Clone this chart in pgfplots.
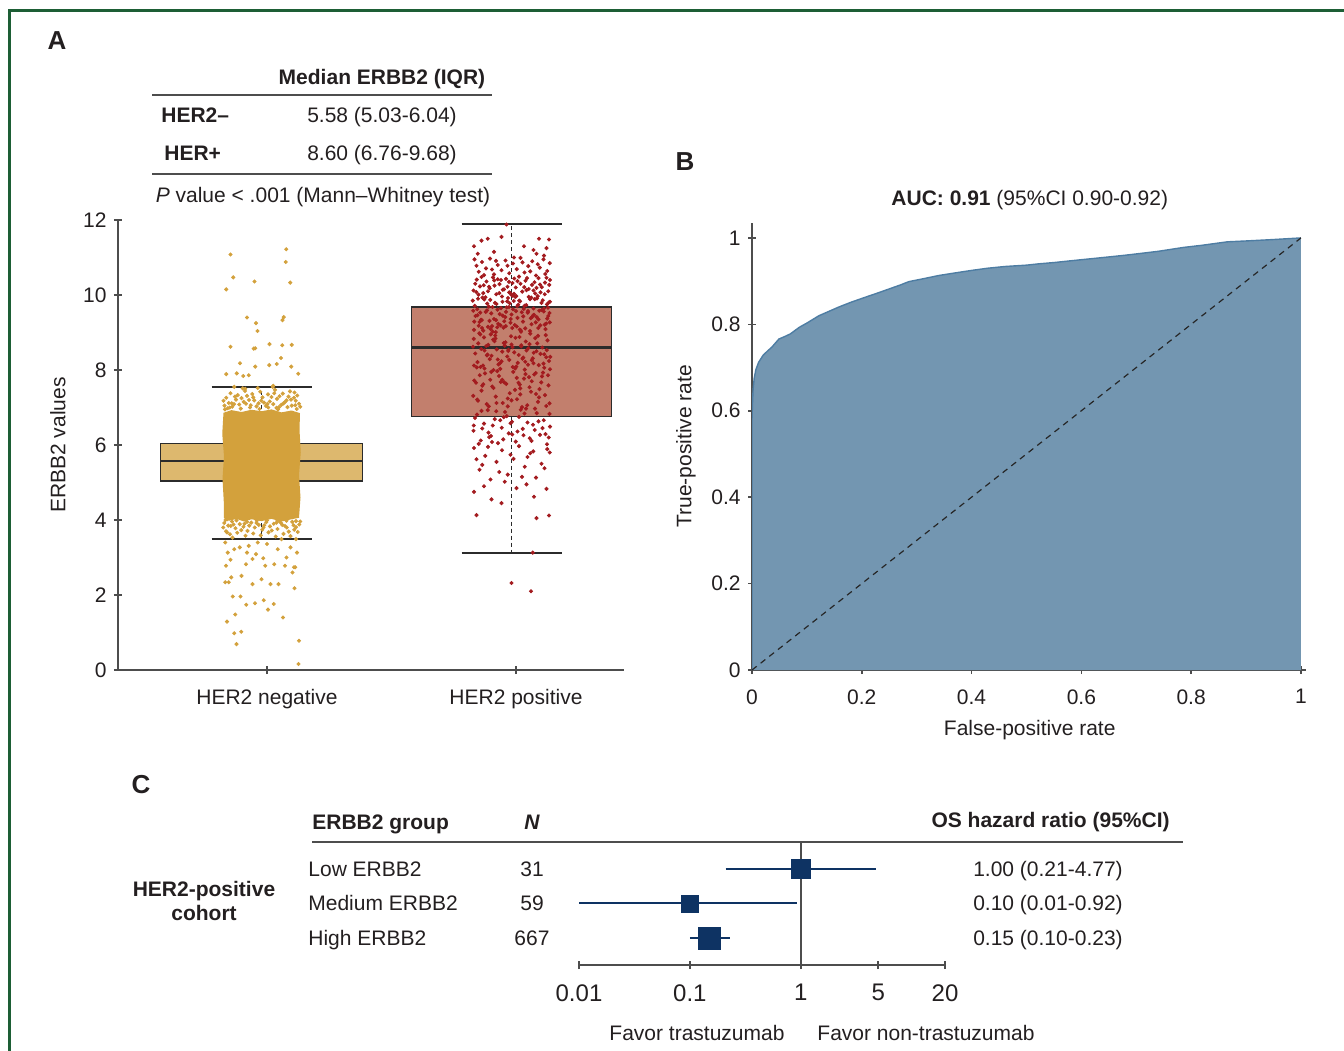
\documentclass[border=0pt]{standalone}
\usepackage{fontspec}
\setmainfont{Liberation Sans}
\usepackage{pgfplots}
\pgfplotsset{compat=1.18}
\definecolor{negbox}{HTML}{DDB86E}
\definecolor{negdot}{HTML}{D3A13C}
\definecolor{posbox}{HTML}{C27F6D}
\definecolor{posdot}{HTML}{A31B1F}
\definecolor{boxline}{HTML}{2B2B2B}
\definecolor{axisgray}{HTML}{4D4D4D}
\definecolor{rocfill}{HTML}{7396B1}
\definecolor{rocline}{HTML}{4E7DA3}
\definecolor{navyc}{HTML}{0E3363}
\definecolor{framec}{HTML}{1D5E35}
\definecolor{textcol}{HTML}{231F20}
\begin{document}
\fontsize{10.5}{12.6}\selectfont
\color{textcol}
\begin{tikzpicture}
\useasboundingbox (0,0) rectangle (672pt,-525pt);
\pgfplotsset{common/.style={scale only axis,
  tick style={draw=axisgray,line width=0.8pt},
  tick align=outside, major tick length=4pt},
  noarrows/.style={axis line style={-,draw=axisgray,line width=0.8pt},
  every outer x axis line/.append style={-}, every outer y axis line/.append style={-}}}

% ---------------- Panel A ----------------
\begin{axis}[common, at={(59pt,-335pt)}, anchor=south west, width=253pt, height=225pt,
  xmin=-0.574, xmax=1.45, ymin=0, ymax=12,
  axis x line=bottom, axis y line=left, noarrows,
  xtick={0.022,1.018}, xticklabels={HER2 negative,HER2 positive},
  xticklabel style={yshift=-4pt},
  ytick={0,2,4,6,8,10,12}, yticklabels={0,2,4,6,8,10,12},
  ylabel={ERBB2 values},
  ylabel style={at={(axis description cs:-0.1186,0.5)}, anchor=center}]
% whiskers negative
\addplot[boxline, line width=0.6pt, dash pattern=on 2pt off 1.5pt] coordinates {(0,6.04)(0,7.55)};
\addplot[boxline, line width=0.6pt, dash pattern=on 2pt off 1.5pt] coordinates {(0,5.03)(0,3.49)};
\addplot[boxline, line width=0.7pt] coordinates {(-0.2,7.55)(0.2,7.55)};
\addplot[boxline, line width=0.7pt] coordinates {(-0.2,3.49)(0.2,3.49)};
% whiskers positive
\addplot[boxline, line width=0.6pt, dash pattern=on 2pt off 1.5pt] coordinates {(1,9.68)(1,11.89)};
\addplot[boxline, line width=0.6pt, dash pattern=on 2pt off 1.5pt] coordinates {(1,6.76)(1,3.12)};
\addplot[boxline, line width=0.7pt] coordinates {(0.8,11.89)(1.2,11.89)};
\addplot[boxline, line width=0.7pt] coordinates {(0.8,3.12)(1.2,3.12)};
% boxes
\addplot[draw=boxline, fill=negbox, line width=0.9pt] coordinates {(-0.404,5.03)(0.404,5.03)(0.404,6.04)(-0.404,6.04)} -- cycle;
\addplot[boxline, line width=1.2pt] coordinates {(-0.404,5.58)(0.404,5.58)};
\addplot[draw=boxline, fill=posbox, line width=0.9pt] coordinates {(0.6,6.76)(1.4,6.76)(1.4,9.68)(0.6,9.68)} -- cycle;
\addplot[boxline, line width=1.2pt] coordinates {(0.6,8.60)(1.4,8.60)};
% dense core of HER2-negative points
\addplot[draw=none, fill=negdot] coordinates {(-0.150,4.05)(-0.130,3.98)(-0.10,4.03)(-0.07,3.96)(-0.04,4.02)(0,3.97)(0.04,4.03)(0.08,3.96)(0.12,4.02)(0.150,4.06)(0.156,4.6)(0.150,5.2)(0.157,5.8)(0.152,6.4)(0.154,6.85)(0.12,6.92)(0.08,6.87)(0.04,6.95)(0,6.9)(-0.04,6.94)(-0.08,6.88)(-0.12,6.93)(-0.152,6.86)(-0.157,6.3)(-0.15,5.7)(-0.156,5.1)(-0.151,4.5)} -- cycle;
% HER2-negative points
\addplot[only marks, mark=*, mark size=0.8pt, color=negdot] coordinates {
(-0.148,7.05)(-0.131,7.12)(-0.117,7.02)(-0.102,7.21)(-0.089,7.08)(-0.071,7.15)(-0.058,7.31)(-0.043,7.06)(-0.029,7.19)(-0.012,7.11)(0.004,7.27)(0.018,7.04)(0.033,7.16)(0.047,7.09)(0.062,7.23)(0.079,7.07)(0.093,7.14)(0.108,7.29)(0.121,7.05)(0.137,7.18)(0.150,7.1)(-0.141,7.26)(-0.124,7.38)(-0.095,7.33)(-0.066,7.44)(-0.037,7.36)(-0.005,7.42)(0.026,7.35)(0.054,7.47)(0.085,7.37)(0.114,7.43)(0.143,7.32)(-0.152,7.18)(-0.110,7.09)(-0.080,7.25)(-0.020,7.03)(0.010,7.13)(0.040,7.28)(0.070,7.01)(0.100,7.19)(0.130,7.26)(-0.050,7.20)(0.155,7.02)(-0.135,6.98)(0.060,6.99)(-0.015,7.52)(0.045,7.55)(-0.075,7.51)
(-0.146,6.95)(-0.127,7.0)(-0.083,6.97)(-0.046,7.0)(-0.008,6.96)(0.027,7.0)(0.066,6.95)(0.104,7.01)(0.141,6.96)(-0.119,7.11)(-0.062,7.1)(0.023,7.09)(0.088,7.11)(0.135,7.06)(-0.001,7.18)(-0.106,7.29)(0.072,7.3)(0.118,7.21)(-0.033,7.27)(0.051,7.38)
(-0.149,3.92)(-0.133,3.85)(-0.118,3.96)(-0.104,3.78)(-0.087,3.89)(-0.072,3.82)(-0.056,3.71)(-0.041,3.93)(-0.027,3.80)(-0.011,3.87)(0.003,3.74)(0.019,3.94)(0.034,3.83)(0.049,3.90)(0.064,3.76)(0.078,3.92)(0.094,3.84)(0.109,3.69)(0.123,3.95)(0.138,3.81)(0.151,3.88)(-0.142,3.70)(-0.126,3.62)(-0.097,3.66)(-0.064,3.58)(-0.033,3.64)(-0.003,3.59)(0.028,3.67)(0.057,3.56)(0.088,3.63)(0.116,3.57)(0.145,3.68)(-0.153,3.80)(-0.112,3.88)(-0.081,3.73)(-0.019,3.98)(0.011,3.86)(0.041,3.72)(0.071,3.97)(0.101,3.80)(0.131,3.74)(-0.049,3.85)(0.155,3.96)(-0.137,4.02)(0.062,4.01)
(-0.144,4.0)(-0.1,3.99)(-0.058,3.95)(-0.02,3.92)(0.022,3.99)(0.06,3.93)(0.1,3.98)(0.138,3.97)(-0.123,3.84)(-0.068,3.9)(0.008,3.8)(0.083,3.87)(0.128,3.86)
(-0.124,11.08)(0.099,11.22)(0.097,10.88)(-0.113,10.47)(-0.028,10.36)(-0.141,10.15)(0.115,10.33)(-0.058,9.40)(0.089,9.41)(0.084,9.33)(-0.022,9.25)(-0.016,9.04)(-0.124,8.62)(-0.025,8.58)(-0.031,8.57)(0.032,8.69)(0.083,8.66)(0.121,8.67)(0.078,8.32)(-0.086,8.18)(-0.025,8.09)(0.031,8.13)(0.061,8.16)(0.119,8.09)(-0.141,7.89)(-0.099,7.91)(-0.073,7.84)(-0.051,7.86)(0.147,7.90)(-0.109,7.55)(-0.065,7.50)(0.047,7.58)(0.132,7.40)
(-0.138,3.67)(-0.109,3.22)(-0.058,3.13)(-0.036,2.96)(0.007,2.98)(0.051,2.82)(0.094,2.78)(0.135,2.74)(-0.142,2.78)(-0.121,2.47)(-0.08,2.51)(0,2.42)(0.036,2.29)(0.068,2.29)(0.132,2.18)(-0.145,2.34)(-0.115,1.96)(-0.084,1.96)(-0.061,1.74)(-0.026,1.78)(0.009,1.86)(0.026,1.61)(0.049,1.76)(-0.105,1.48)(0.086,1.40)(-0.138,1.29)(-0.109,0.98)(-0.081,1.02)(-0.1,0.69)(0.15,0.78)(0.148,0.16)
(-0.145,3.40)(-0.116,3.53)(-0.087,3.27)(-0.051,3.31)(-0.015,3.40)(0.022,3.36)(0.065,3.22)(0.116,3.27)(0.142,3.13)(0.138,3.49)(-0.135,3.13)(0.08,3.49)(-0.022,3.09)(0.10,3.0)(-0.124,2.94)(-0.062,2.82)(0.015,2.78)(0.124,2.60)(-0.131,2.34)(-0.036,2.29)(0.13,2.74)
};
% HER2-positive points (jitter offsets around category 1)
\addplot[only marks, mark=*, mark size=0.8pt, color=posdot, x filter/.expression={x+1}] coordinates {
(-0.02,11.88)(-0.12,11.45)(-0.095,11.5)(-0.04,11.55)(0.11,11.5)(0.15,11.48)(0.088,11.2)(-0.15,11.3)(0.05,11.3)(-0.07,11.15)(0.13,11.05)(0.01,11.0)(-0.135,11.1)(0.1,11.1)(0.14,11.25)
(-0.148,10.95)(-0.131,10.62)(-0.118,10.88)(-0.102,10.71)(-0.086,10.97)(-0.07,10.55)(-0.055,10.8)(-0.04,10.66)(-0.024,10.92)(-0.009,10.58)(0.006,10.84)(0.021,10.69)(0.036,10.99)(0.052,10.6)(0.067,10.77)(0.083,10.9)(0.098,10.52)(0.113,10.73)(0.128,10.95)(0.143,10.64)(0.153,10.85)(-0.14,10.78)(-0.078,10.68)(-0.016,10.78)(0.044,10.87)(0.105,10.82)(0.135,10.56)(-0.11,10.53)(0.075,10.63)(-0.062,10.91)
(-0.152,10.12)(-0.139,10.41)(-0.126,10.23)(-0.113,10.05)(-0.1,10.36)(-0.087,10.18)(-0.074,10.47)(-0.061,10.02)(-0.048,10.29)(-0.035,10.14)(-0.022,10.43)(-0.009,10.07)(0.004,10.32)(0.017,10.2)(0.03,10.49)(0.043,10.09)(0.056,10.38)(0.069,10.16)(0.082,10.27)(0.095,10.04)(0.108,10.45)(0.121,10.21)(0.134,10.33)(0.147,10.1)(0.154,10.4)(-0.145,10.3)(-0.12,10.48)(-0.094,10.1)(-0.068,10.25)(-0.042,10.4)(-0.016,10.22)(0.01,10.03)(0.036,10.3)(0.062,10.45)(0.088,10.12)(0.114,10.28)(0.14,10.46)(-0.132,10.01)(-0.055,10.42)(0.024,10.37)(0.1,10.19)(-0.005,10.05)(0.005,9.98)(0.0,10.0)(0.015,9.95)
(-0.150,9.07)(-0.137,9.62)(-0.122,9.34)(-0.109,9.88)(-0.094,9.15)(-0.081,9.51)(-0.066,9.79)(-0.053,9.23)(-0.038,9.96)(-0.025,9.41)(-0.010,9.68)(0.003,9.12)(0.018,9.57)(0.031,9.85)(0.046,9.29)(0.059,9.73)(0.074,9.04)(0.087,9.46)(0.102,9.91)(0.115,9.19)(0.130,9.64)(0.143,9.37)(0.154,9.82)
(-0.144,9.44)(-0.131,9.18)(-0.116,9.93)(-0.103,9.55)(-0.088,9.31)(-0.075,9.02)(-0.060,9.76)(-0.047,9.49)(-0.032,9.13)(-0.019,9.67)(-0.004,9.26)(0.009,9.84)(0.024,9.39)(0.037,9.06)(0.052,9.71)(0.065,9.53)(0.080,9.22)(0.093,9.89)(0.108,9.35)(0.121,9.6)(0.136,9.09)(0.149,9.8)
(-0.147,9.71)(-0.128,9.28)(-0.113,9.05)(-0.098,9.59)(-0.085,9.87)(-0.070,9.36)(-0.057,9.14)(-0.042,9.65)(-0.029,9.3)(-0.014,9.92)(0.0,9.48)(0.013,9.2)(0.027,9.74)(0.041,9.54)(0.055,9.11)(0.069,9.95)(0.083,9.42)(0.097,9.27)(0.111,9.58)(0.125,9.86)(0.139,9.24)(0.152,9.52)
(-0.153,9.58)(-0.119,9.33)(-0.091,9.69)(-0.063,9.01)(-0.035,9.45)(-0.007,9.78)(0.021,9.16)(0.049,9.63)(0.077,9.38)(0.105,9.97)(0.133,9.21)(-0.134,9.9)(-0.078,9.17)(-0.022,9.55)(0.034,9.83)(0.090,9.47)(0.146,9.66)
(-0.149,9.29)(-0.141,10.08)(-0.125,9.53)(-0.111,10.26)(-0.097,9.77)(-0.083,9.09)(-0.069,10.39)(-0.056,9.61)(-0.044,9.19)(-0.03,10.15)(-0.017,9.83)(-0.003,9.36)(0.011,10.44)(0.023,9.7)(0.038,9.02)(0.051,10.21)(0.066,9.57)(0.079,9.93)(0.092,10.34)(0.107,9.12)(0.12,9.79)(0.133,10.02)(0.147,9.44)(0.153,9.27)
(-0.155,9.85)(-0.136,9.46)(-0.118,9.12)(-0.104,9.94)(-0.09,10.22)(-0.076,9.68)(-0.062,9.33)(-0.049,10.05)(-0.036,9.82)(-0.023,9.17)(-0.01,10.35)(0.006,9.62)(0.019,9.97)(0.033,9.08)(0.047,9.43)(0.06,10.13)(0.074,9.89)(0.088,9.64)(0.101,9.41)(0.116,10.07)(0.129,9.56)(0.142,9.75)(0.151,10.27)
(-0.151,8.83)(-0.136,8.21)(-0.121,8.56)(-0.108,8.04)(-0.093,8.67)(-0.08,8.38)(-0.065,8.92)(-0.052,8.15)(-0.037,8.49)(-0.024,8.74)(-0.009,8.27)(0.004,8.61)(0.019,8.09)(0.032,8.88)(0.047,8.33)(0.06,8.52)(0.075,8.97)(0.088,8.18)(0.103,8.71)(0.116,8.43)(0.131,8.06)(0.144,8.79)(0.155,8.35)
(-0.145,8.44)(-0.129,8.98)(-0.114,8.12)(-0.101,8.64)(-0.087,8.29)(-0.073,8.81)(-0.059,8.55)(-0.045,8.03)(-0.031,8.72)(-0.017,8.36)(-0.002,8.9)(0.011,8.47)(0.025,8.19)(0.039,8.66)(0.053,8.01)(0.067,8.58)(0.081,8.26)(0.095,8.85)(0.109,8.13)(0.123,8.6)(0.137,8.93)(0.15,8.24)
(-0.154,8.62)(-0.124,8.08)(-0.096,8.41)(-0.068,8.77)(-0.04,8.23)(-0.012,8.54)(0.016,8.86)(0.044,8.3)(0.072,8.69)(0.1,8.5)(0.128,8.17)(-0.139,8.07)(-0.083,8.95)(-0.027,8.65)(0.029,8.4)(0.085,8.31)(0.141,8.53)(-0.11,8.87)(0.057,8.76)
(-0.15,8.12)(-0.133,8.71)(-0.117,7.58)(-0.098,8.39)(-0.081,7.95)(-0.064,8.84)(-0.046,8.18)(-0.029,7.67)(-0.013,8.51)(0.005,8.08)(0.021,7.79)(0.039,8.63)(0.055,8.22)(0.072,7.54)(0.089,8.46)(0.106,8.91)(0.122,7.83)(0.139,8.34)(0.154,8.02)
(-0.142,7.66)(-0.108,8.52)(-0.072,8.0)(-0.037,7.74)(0.0,8.68)(0.033,7.61)(0.066,8.14)(0.097,7.92)(0.131,8.42)(-0.125,8.95)(-0.055,8.28)(0.015,8.04)(0.081,7.7)(0.146,7.86)
(-0.149,7.72)(-0.134,7.18)(-0.12,7.45)(-0.106,7.91)(-0.091,7.03)(-0.077,7.56)(-0.063,7.29)(-0.05,7.84)(-0.035,7.12)(-0.021,7.63)(-0.007,7.38)(0.007,7.95)(0.022,7.22)(0.035,7.51)(0.05,7.77)(0.063,7.06)(0.078,7.42)(0.091,7.88)(0.106,7.15)(0.119,7.67)(0.134,7.33)(0.148,7.59)
(-0.153,7.31)(-0.127,7.86)(-0.099,7.09)(-0.072,7.52)(-0.043,7.68)(-0.015,7.24)(0.014,7.47)(0.042,7.01)(0.07,7.81)(0.098,7.36)(0.126,7.93)(0.152,7.11)(-0.113,7.62)(-0.057,7.97)(0.0,7.19)(0.056,7.89)(0.112,7.49)(-0.085,7.74)(0.028,7.66)(0.139,7.04)
(-0.152,6.38)(-0.138,6.81)(-0.123,6.12)(-0.11,6.57)(-0.095,6.93)(-0.082,6.24)(-0.067,6.69)(-0.054,6.05)(-0.039,6.46)(-0.026,6.88)(-0.011,6.31)(0.002,6.62)(0.017,6.09)(0.03,6.75)(0.045,6.43)(0.058,6.97)(0.073,6.18)(0.086,6.54)(0.101,6.85)(0.114,6.27)(0.129,6.66)(0.142,6.02)(0.154,6.49)
(-0.146,6.72)(-0.117,6.44)(-0.089,6.21)(-0.061,6.9)(-0.033,6.15)(-0.004,6.58)(0.024,6.36)(0.052,6.84)(0.08,6.11)(0.108,6.63)(0.136,6.29)(-0.131,6.03)(-0.075,6.52)(-0.019,6.77)(0.037,6.94)(0.093,6.4)(0.149,6.2)(-0.045,6.66)
(-0.151,6.52)(-0.12,6.91)(-0.092,6.33)(-0.06,7.12)(-0.031,6.74)(0.003,6.28)(0.035,7.35)(0.064,6.6)(0.094,6.97)(0.124,6.45)(0.152,6.83)(-0.137,7.21)(-0.078,6.08)(-0.015,7.03)(0.048,6.26)(0.11,7.27)
(-0.15,5.92)(-0.128,5.34)(-0.105,5.71)(-0.084,5.08)(-0.06,5.55)(-0.038,5.86)(-0.015,5.21)(0.008,5.63)(0.03,5.97)(0.053,5.42)(0.075,5.78)(0.098,5.13)(0.12,5.5)(0.143,5.89)(-0.14,5.62)(-0.094,5.95)(-0.049,5.28)(-0.004,5.74)(0.042,5.15)(0.087,5.83)(0.132,5.38)(-0.117,5.47)(-0.027,5.02)(0.064,5.68)(0.153,5.8)
(-0.15,4.75)(-0.14,4.13)(-0.08,4.55)(-0.04,4.45)(0.02,4.85)(0.06,4.95)(0.09,4.62)(0.14,4.83)(0.1,4.05)(0.15,4.12)(-0.11,4.9)
(0.085,3.13)(0.0,2.32)(0.078,2.1)
};
\end{axis}

% ---------------- Panel B ----------------
\begin{axis}[common, at={(376pt,-335pt)}, anchor=south west, width=277.2pt, height=223.6pt,
  xmin=0, xmax=1.01, ymin=0, ymax=1.035,
  axis x line=bottom, axis y line=left, noarrows,
  xtick={0,0.2,0.4,0.6,0.8,1}, xticklabels={0,0.2,0.4,0.6,0.8,1},
  xticklabel style={yshift=-4pt},
  ytick={0,0.2,0.4,0.6,0.8,1}, yticklabels={0,0.2,0.4,0.6,0.8,1},
  xlabel={False-positive rate}, ylabel={True-positive rate},
  xlabel style={at={(axis description cs:0.501,-0.134)}, anchor=center},
  ylabel style={at={(axis description cs:-0.119,0.5)}, anchor=center},
  title={\textbf{AUC: 0.91} (95\%CI 0.90-0.92)},
  title style={at={(axis description cs:0.501,1.023)}, anchor=center}]
\addplot[fill=rocfill, draw=none] coordinates {(0,0)(0,0.58)(0.001,0.62)(0.002,0.65)(0.004,0.675)(0.007,0.695)(0.012,0.712)(0.02,0.728)(0.028,0.738)(0.036,0.747)(0.049,0.766)(0.06,0.772)(0.07,0.778)(0.086,0.793)(0.1,0.803)(0.122,0.82)(0.14,0.83)(0.158,0.84)(0.18,0.851)(0.207,0.863)(0.23,0.873)(0.25,0.882)(0.27,0.891)(0.286,0.899)(0.31,0.905)(0.34,0.913)(0.37,0.919)(0.401,0.925)(0.43,0.93)(0.462,0.934)(0.5,0.937)(0.522,0.94)(0.55,0.943)(0.58,0.947)(0.611,0.951)(0.65,0.956)(0.68,0.96)(0.707,0.964)(0.74,0.969)(0.786,0.978)(0.82,0.983)(0.866,0.991)(0.9,0.993)(0.946,0.996)(1,1)(1,0)} -- cycle;
\addplot[draw=rocline, line width=0.7pt] coordinates {(0,0)(0,0.58)(0.001,0.62)(0.002,0.65)(0.004,0.675)(0.007,0.695)(0.012,0.712)(0.02,0.728)(0.028,0.738)(0.036,0.747)(0.049,0.766)(0.06,0.772)(0.07,0.778)(0.086,0.793)(0.1,0.803)(0.122,0.82)(0.14,0.83)(0.158,0.84)(0.18,0.851)(0.207,0.863)(0.23,0.873)(0.25,0.882)(0.27,0.891)(0.286,0.899)(0.31,0.905)(0.34,0.913)(0.37,0.919)(0.401,0.925)(0.43,0.93)(0.462,0.934)(0.5,0.937)(0.522,0.94)(0.55,0.943)(0.58,0.947)(0.611,0.951)(0.65,0.956)(0.68,0.96)(0.707,0.964)(0.74,0.969)(0.786,0.978)(0.82,0.983)(0.866,0.991)(0.9,0.993)(0.946,0.996)(1,1)};
\addplot[black!85, line width=0.6pt, dash pattern=on 3pt off 2.5pt] coordinates {(0,0)(1,1)};
\end{axis}

% ---------------- Panel C ----------------
\begin{axis}[common, at={(289.5pt,-482.5pt)}, anchor=south west, width=183pt, height=61.5pt,
  xmode=log, xmin=0.01, xmax=20, ymin=0.217, ymax=3.78,
  axis x line=bottom, hide y axis, noarrows, xminorticks=false,
  xtick={0.01,0.1,1,5,20}, xticklabels={0.01,0.1,1,5,20},
  xticklabel style={font=\fontsize{12}{14}\selectfont, yshift=-4pt},
  clip=false]
\addplot[axisgray, line width=0.8pt] coordinates {(1,0.217)(1,3.78)};
\addplot[navyc, line width=1pt] coordinates {(0.21,3)(4.77,3)};
\addplot[navyc, line width=1pt] coordinates {(0.01,2)(0.92,2)};
\addplot[navyc, line width=1pt] coordinates {(0.10,1)(0.23,1)};
\addplot[only marks, mark=square*, mark size=4.75pt, color=navyc] coordinates {(1,3)};
\addplot[only marks, mark=square*, mark size=4.25pt, color=navyc] coordinates {(0.10,2)};
\addplot[only marks, mark=square*, mark size=5.5pt, color=navyc] coordinates {(0.15,1)};
\end{axis}

% ---------------- annotations ----------------
\begin{scope}[x=0.5pt,y=-0.5pt, every node/.style={inner sep=0pt}]
\draw[framec, line width=1.5pt] (9,1070) -- (9,10) -- (1360,10);
\node[anchor=base, font=\fontsize{13}{15}\selectfont\bfseries] at (57,49) {A};
\node[anchor=base, font=\fontsize{13}{15}\selectfont\bfseries] at (685,170) {B};
\node[anchor=base, font=\fontsize{13}{15}\selectfont\bfseries] at (141,793) {C};
% table of panel A
\node[anchor=base, font=\bfseries] at (382,84.5) {Median ERBB2 (IQR)};
\draw[axisgray, line width=0.8pt] (152,95) -- (492,95);
\node[anchor=base west, font=\bfseries] at (161,122.5) {HER2–};
\node[anchor=base] at (382,122.5) {5.58 (5.03-6.04)};
\node[anchor=base west, font=\bfseries] at (164,160.5) {HER+};
\node[anchor=base] at (382,160.5) {8.60 (6.76-9.68)};
\draw[axisgray, line width=0.8pt] (152,174) -- (492,174);
\node[anchor=base] at (323,202.5) {\textit{P} value < .001 (Mann–Whitney test)};
% forest plot texts
\node[anchor=base west, font=\bfseries] at (312,829) {ERBB2 group};
\node[anchor=base, font=\bfseries\itshape] at (532,829) {N};
\node[anchor=base east, font=\bfseries] at (1170,827.5) {OS hazard ratio (95\%CI)};
\draw[axisgray, line width=1pt] (312,842) -- (1183,842);
\node[anchor=base west] at (308,876.5) {Low ERBB2};
\node[anchor=base west] at (308,910.5) {Medium ERBB2};
\node[anchor=base west] at (308,945.5) {High ERBB2};
\node[anchor=base] at (532,876.5) {31};
\node[anchor=base] at (532,910.5) {59};
\node[anchor=base] at (532,945.5) {667};
\node[anchor=base] at (1048,876.5) {1.00 (0.21-4.77)};
\node[anchor=base] at (1048,910.5) {0.10 (0.01-0.92)};
\node[anchor=base] at (1048,945.5) {0.15 (0.10-0.23)};
\node[anchor=base, font=\bfseries] at (204,896.5) {HER2-positive};
\node[anchor=base, font=\bfseries] at (204,920.5) {cohort};
\node[anchor=base] at (697,1040.5) {Favor trastuzumab};
\node[anchor=base] at (926,1040.5) {Favor non-trastuzumab};
\end{scope}
\end{tikzpicture}
\end{document}
